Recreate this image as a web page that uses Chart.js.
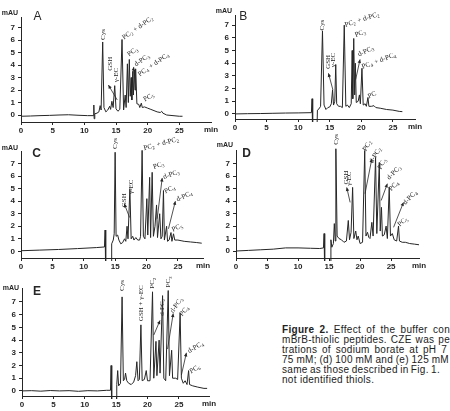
<!DOCTYPE html>
<html>
<head>
<meta charset="utf-8">
<script src="https://cdn.jsdelivr.net/npm/chart.js@4.4.1/dist/chart.umd.min.js"></script>
<style>
  html, body { margin: 0; padding: 0; background: #fff; }
  body { width: 450px; height: 411px; position: relative; overflow: hidden; }
  canvas { position: absolute; }
  #cap { position: absolute; left: 282px; top: 325px; font-family: "Liberation Sans", Arial, sans-serif; font-size: 10px; letter-spacing: 0.3px; color: #222; }
  #cap div { white-space: nowrap; height: 10px; line-height: 10px; }
</style>
</head>
<body>
<canvas id="chartA"></canvas>
<canvas id="chartB"></canvas>
<canvas id="chartC"></canvas>
<canvas id="chartD"></canvas>
<canvas id="chartE"></canvas>
<div id="cap">
  <div data-end="450"><span><b>Figure 2.</b> Effect of the buffer con</span>centration on</div>
  <div data-end="450"><span>mBrB-thiolic peptides. CZE was pe</span>rformed</div>
  <div data-end="447"><span>trations of sodium borate at pH 7</span></div>
  <div data-end="449"><span>75 mM; (d) 100 mM and (e) 125 mM</span></div>
  <div data-end="440"><span>same as those described in Fig. 1.</span></div>
  <div><span>not identified thiols.</span></div>
</div>
<script>
// ---- data: migration time (min) and absorbance (mAU) for each run ----
const timeA = [0, 1.5, 3, 4.5, 6, 7.5, 9, 10.5, 11.4, 11.5, 11.55, 11.65, 12.0, 12.3, 12.5, 12.65, 12.9, 13.1, 13.4, 13.7, 14.0, 14.15, 14.35, 14.55, 14.8, 15.0, 15.3, 15.6, 15.95, 16.2, 16.45, 16.6, 16.8, 16.95, 17.1, 17.25, 17.4, 17.5, 17.65, 17.75, 17.9, 18.0, 18.1, 18.3, 18.6, 18.75, 19.0, 19.15, 19.5, 20.0, 20.5, 21.0, 21.5, 22.0, 22.2, 22.4, 23.0, 24.0, 25.0, 25.5];
const mauA  = [-0.1, -0.08, -0.05, -0.03, 0.0, 0.02, -0.02, -0.05, -0.05, 0.8, -0.3, 0.1, 0.15, 0.25, 0.75, 0.4, 5.85, 0.6, 0.25, 0.4, 0.7, 0.45, 1.1, 0.6, 2.35, 0.5, 0.3, 0.45, 6.05, 0.4, 1.6, 0.6, 4.1, 1.0, 4.45, 1.5, 3.0, 1.2, 3.5, 1.6, 3.6, 2.0, 3.7, 0.9, 0.85, 0.6, 0.95, 0.6, 0.65, 0.55, 0.45, 0.35, 0.25, 0.2, 0.3, 0.15, 0.0, -0.05, -0.1, -0.1];

const timeB = [0, 2, 4, 6, 8, 10, 12.1, 12.2, 12.3, 12.95, 13.05, 13.3, 13.55, 13.85, 14.1, 14.4, 14.7, 15.0, 15.25, 15.45, 15.6, 15.8, 15.95, 16.1, 16.4, 16.7, 17.0, 17.3, 17.55, 17.8, 18.1, 18.4, 18.55, 18.65, 18.8, 18.95, 19.05, 19.2, 19.5, 19.7, 19.85, 20.1, 20.3, 20.6, 20.8, 21.05, 21.2, 21.6, 22.0, 22.3, 23.0, 24.0, 25.0, 26.0, 26.5];
const mauB  = [0.0, 0.02, 0.03, 0.05, 0.07, 0.08, 0.1, 1.2, -2.0, -2.0, 0.3, 0.4, 0.6, 6.55, 0.7, 0.35, 0.5, 0.55, 0.8, 1.9, 0.7, 1.0, 3.9, 0.8, 0.6, 0.6, 0.5, 7.0, 0.6, 0.7, 0.5, 0.8, 5.0, 1.2, 5.95, 1.5, 4.0, 0.9, 1.0, 1.5, 0.8, 3.6, 0.7, 0.8, 0.6, 1.3, 0.6, 0.6, 0.65, 0.5, 0.45, 0.35, 0.3, 0.2, 0.18];

const timeC = [0, 3, 6, 9, 12, 13.3, 13.4, 13.5, 14.35, 14.45, 14.7, 14.85, 15.0, 15.15, 15.4, 15.6, 15.9, 16.2, 16.5, 16.7, 16.9, 17.05, 17.35, 17.55, 17.8, 18.0, 18.3, 18.6, 18.9, 19.05, 19.3, 19.5, 19.75, 20.05, 20.2, 20.5, 20.65, 20.9, 21.1, 21.35, 21.6, 21.75, 22.1, 22.3, 22.5, 22.7, 22.85, 23.2, 23.35, 23.6, 23.9, 24.05, 24.3, 24.5, 25.0, 25.5, 26.0, 27.0, 28.0, 28.8];
const mauC  = [0.05, 0.1, 0.15, 0.22, 0.3, 0.35, 1.7, -2.0, -2.0, 0.6, 0.9, 1.4, 7.9, 1.2, 1.3, 0.9, 0.6, 0.7, 1.0, 0.8, 2.0, 1.0, 5.0, 1.0, 1.2, 0.9, 1.1, 0.9, 0.9, 1.2, 8.05, 1.2, 1.0, 4.2, 1.3, 5.9, 1.1, 6.3, 1.2, 2.0, 3.7, 1.1, 3.0, 1.0, 1.2, 4.85, 0.9, 2.0, 0.8, 0.9, 1.5, 0.8, 1.4, 0.9, 0.9, 0.85, 0.8, 0.75, 0.7, 0.65];

const timeD = [0, 2, 4, 6, 8, 10, 12, 13.5, 14.1, 14.2, 14.3, 15.2, 15.3, 15.45, 15.7, 15.85, 16.0, 16.1, 16.3, 16.6, 17.0, 17.4, 17.8, 18.1, 18.3, 18.55, 18.8, 19.0, 19.3, 19.5, 19.7, 20.0, 20.4, 20.75, 20.95, 21.2, 21.4, 21.6, 21.9, 22.1, 22.5, 22.7, 23.1, 23.25, 23.45, 23.6, 23.9, 24.2, 24.4, 24.7, 24.9, 25.2, 25.5, 25.9, 26.2, 26.35, 26.8, 27.3, 28.0, 28.8, 29.5];
const mauD  = [0.0, 0.05, 0.1, 0.15, 0.25, 0.25, 0.22, 0.2, 0.25, 1.4, -2.0, -2.0, 0.9, 0.3, 0.6, 2.2, 0.8, 8.2, 1.2, 1.0, 0.9, 0.7, 0.8, 2.45, 0.9, 1.5, 5.1, 1.0, 1.6, 0.9, 1.2, 0.6, 0.7, 8.06, 1.2, 1.5, 1.1, 1.0, 2.3, 1.2, 7.5, 1.4, 7.1, 1.6, 3.5, 1.2, 1.3, 2.0, 1.0, 5.1, 1.2, 1.4, 0.9, 0.8, 2.0, 0.8, 0.7, 0.7, 0.6, 0.55, 0.5];

const timeE = [0, 1.5, 3, 4.5, 6, 7.5, 9, 10.5, 12, 13.5, 14.1, 14.2, 14.3, 15.0, 15.1, 15.25, 15.4, 15.7, 15.95, 16.15, 16.35, 16.5, 16.7, 17.0, 17.4, 17.8, 18.1, 18.3, 18.5, 18.7, 18.95, 19.15, 19.5, 19.8, 20.0, 20.4, 20.8, 21.0, 21.35, 21.5, 21.85, 22.0, 22.4, 22.6, 22.9, 23.3, 23.5, 23.85, 24.0, 24.5, 24.8, 25.2, 25.4, 25.7, 26.0, 26.3, 26.55, 26.7, 27.2, 28.0, 29.0, 29.5];
const mauE  = [0.0, 0.02, -0.02, 0.03, 0.0, 0.02, -0.03, 0.02, 0.0, 0.05, 0.05, 2.0, -2.0, -2.0, 0.5, 1.6, 0.4, 0.6, 7.4, 0.8, 0.9, 1.4, 0.8, 0.6, 0.5, 0.7, 1.2, 2.3, 0.8, 0.9, 5.2, 0.8, 0.9, 1.6, 0.8, 0.8, 7.8, 1.0, 3.9, 1.2, 4.0, 1.4, 7.5, 1.0, 0.8, 7.9, 1.2, 3.2, 1.0, 1.0, 0.9, 6.1, 1.0, 0.6, 0.8, 0.5, 1.6, 0.5, 0.4, 0.3, 0.2, 0.2];

const timeTicks = [0, 5, 10, 15, 20, 25];
const mauTicks  = [0, 1, 2, 3, 4, 5, 6, 7];

// peak labels: [text, time, mAU, rotation deg, align]  ("_n" = subscript)
const peaksA = [
  ['Cys', 12.9, 6.45, -90, 'center'], ['GSH', 14.1, 4.1, -90, 'center'], ['\u03b3-EC', 14.95, 3.2, -90, 'center'],
  ['PC_2 + d-PC_2', 16.1, 6.15, -35, 'left'], ['PC_3', 16.9, 4.8, -35, 'left'], ['d-PC_3', 18.0, 4.0, -35, 'left'],
  ['PC_4 + d-PC_4', 18.6, 3.2, -35, 'left'], ['PC_5', 19.4, 1.2, -30, 'left']
];
const peaksB = [
  ['Cys', 13.85, 7.0, -90, 'center'], ['GSH', 14.8, 4.1, -90, 'center'], ['\u03b3-EC', 15.6, 4.25, -90, 'center'],
  ['PC_2 + d-PC_2', 17.4, 7.0, -18, 'left'], ['PC_3', 19.0, 6.2, -20, 'left'], ['d-PC_3', 19.5, 4.65, -25, 'left'],
  ['PC_4 + d-PC_4', 20.1, 3.7, -20, 'left'], ['PC', 21.1, 1.35, -25, 'left']
];
const peaksC = [
  ['Cys', 15.0, 8.6, -90, 'center'], ['GSH', 16.5, 4.07, -90, 'center'], ['\u03b3-EC', 17.5, 5.15, -90, 'center'],
  ['PC_2 + d-PC_2', 19.55, 8.2, -15, 'left'], ['PC_3', 21.1, 6.7, -20, 'left'], ['d-PC_3', 22.7, 5.9, -20, 'left'],
  ['PC_4', 22.9, 4.75, -25, 'left'], ['d-PC_4', 24.8, 4.1, -25, 'left'], ['PC_5', 24.1, 1.7, -25, 'left']
];
const peaksD = [
  ['Cys', 16.1, 8.95, -90, 'center'], ['GSH', 17.7, 5.9, -90, 'center'], ['\u03b3-EC', 18.3, 5.8, -90, 'center'],
  ['PC_2', 20.7, 8.05, -60, 'left'], ['d-PC_2', 21.8, 7.1, -60, 'left'], ['PC_3', 23.1, 6.6, -60, 'left'],
  ['d-PC_3', 24.5, 5.8, -45, 'left'], ['PC_4', 24.8, 4.9, -45, 'left'], ['d-PC_4', 27.1, 3.8, -45, 'left'],
  ['PC_5', 26.2, 2.05, -40, 'left']
];
const peaksE = [
  ['Cys', 16.0, 8.3, -90, 'center'], ['GSH + \u03b3-EC', 19.0, 6.9, -90, 'center'], ['PC_2', 20.8, 8.5, -90, 'center'],
  ['d-PC_2', 22.3, 6.6, -90, 'center'], ['PC_3', 23.3, 8.6, -90, 'center'], ['d-PC_3', 23.85, 6.2, -55, 'left'],
  ['PC_4', 25.3, 5.95, -50, 'left'], ['d-PC_4', 26.5, 3.1, -30, 'left'], ['PC_6', 26.8, 1.5, -30, 'left']
];

// arrows: [fromTime, fromMAU, toTime, toMAU]
const arrowsA = [[15.2, 1.2, 13.8, 2.4], [17.5, 2.2, 17.8, 3.85]];
const arrowsB = [[15.5, 1.9, 14.8, 3.2], [19.1, 2.7, 19.8, 4.3]];
const arrowsC = [[17.3, 2.7, 16.45, 3.8], [21.7, 2.6, 22.5, 5.85], [23.5, 1.8, 24.6, 4.0]];
const arrowsD = [[18.4, 3.9, 17.85, 5.1], [20.8, 4.6, 21.9, 7.4], [23.4, 4.05, 24.4, 5.4], [25.4, 1.9, 27.0, 3.9]];
const arrowsE = [[21.0, 4.4, 22.0, 5.55], [23.2, 3.3, 24.1, 6.1], [25.4, 1.25, 26.2, 3.0]];

// ---- layout of each panel (pixel placement in the figure) ----
const YW = 20, XH = 14, PL = 12, PT = 22, PR = 14, PB = 2;
const INK = '#262626';

const panels = [
  { id: 'chartA', t: timeA, v: mauA, peaks: peaksA, arrows: arrowsA, letter: 'A', bold: false, letterAt: [2.6, 7.85],
    x0: 21, ppm: 6.32, y0: 115, ppu: 12.53, tMax: 30, yMin: -0.56, yMax: 7.85, unitAt: 8.2, dashed: false },
  { id: 'chartB', t: timeB, v: mauB, peaks: peaksB, arrows: arrowsB, letter: 'B', bold: false, letterAt: [1.3, 7.7],
    x0: 235, ppm: 6.31, y0: 114, ppu: 12.71, tMax: 28.5, yMin: -0.4, yMax: 7.8, unitAt: 8.1, dashed: false },
  { id: 'chartC', t: timeC, v: mauC, peaks: peaksC, arrows: arrowsC, letter: 'C', bold: true, letterAt: [2.5, 7.8],
    x0: 21, ppm: 6.26, y0: 251, ppu: 12.53, tMax: 29, yMin: -0.53, yMax: 8.0, unitAt: 8.2, dashed: true },
  { id: 'chartD', t: timeD, v: mauD, peaks: peaksD, arrows: arrowsD, letter: 'D', bold: true, letterAt: [1.7, 7.8],
    x0: 236, ppm: 6.2, y0: 250.7, ppu: 12.49, tMax: 29.5, yMin: -0.56, yMax: 8.1, unitAt: 8.5, dashed: true },
  { id: 'chartE', t: timeE, v: mauE, peaks: peaksE, arrows: arrowsE, letter: 'E', bold: true, letterAt: [2.4, 7.8],
    x0: 21.7, ppm: 6.29, y0: 390.7, ppu: 12.71, tMax: 29.8, yMin: -0.4, yMax: 8.1, unitAt: 8.1, dashed: false }
];

// draws text with "_n" subscripts, starting at x=0 (left) or centred
function drawRich(ctx, str, align) {
  const parts = str.split(/_(\d)/);
  const big = '7px "Liberation Serif", "DejaVu Serif", serif';
  const small = '5px "Liberation Serif", "DejaVu Serif", serif';
  let w = 0;
  parts.forEach((s, i) => { ctx.font = i % 2 ? small : big; w += ctx.measureText(s).width + (i % 2 ? 0.6 : 0); });
  let x = align === 'center' ? -w / 2 : 0;
  parts.forEach((s, i) => {
    ctx.font = i % 2 ? small : big;
    ctx.fillText(s, x, i % 2 ? 2 : 0);
    x += ctx.measureText(s).width + (i % 2 ? 0.6 : 0);
  });
}

const inkPlugin = {
  id: 'ink',
  afterDraw(chart) {
    const p = chart.canvas.$panel;
    if (!p) return;
    const ctx = chart.ctx, xs = chart.scales.x, ys = chart.scales.y, a = chart.chartArea;
    ctx.save();
    ctx.fillStyle = INK;
    ctx.strokeStyle = INK;
    ctx.textBaseline = 'middle';
    // panel letter
    ctx.font = (p.bold ? 'bold ' : '') + '12px "Liberation Sans", Arial, sans-serif';
    ctx.textAlign = 'center';
    ctx.fillText(p.letter, xs.getPixelForValue(p.letterAt[0]), ys.getPixelForValue(p.letterAt[1]));
    // axis units
    ctx.font = 'bold 7px "Liberation Sans", Arial, sans-serif';
    ctx.textAlign = 'right';
    ctx.fillText('mAU', a.left - 3, ys.getPixelForValue(p.unitAt));
    ctx.font = 'bold 8px "Liberation Sans", Arial, sans-serif';
    ctx.textAlign = 'center';
    ctx.fillText('min', a.right, a.bottom + 8);
    // peak labels
    ctx.textAlign = 'left';
    p.peaks.forEach(([txt, t, v, rot, align]) => {
      ctx.save();
      ctx.translate(xs.getPixelForValue(t), ys.getPixelForValue(v));
      ctx.rotate(rot * Math.PI / 180);
      drawRich(ctx, txt, align);
      ctx.restore();
    });
    // arrows
    ctx.lineWidth = 0.8;
    p.arrows.forEach(([t1, v1, t2, v2]) => {
      const x1 = xs.getPixelForValue(t1), y1 = ys.getPixelForValue(v1);
      const x2 = xs.getPixelForValue(t2), y2 = ys.getPixelForValue(v2);
      const ang = Math.atan2(y2 - y1, x2 - x1);
      ctx.beginPath(); ctx.moveTo(x1, y1); ctx.lineTo(x2, y2); ctx.stroke();
      ctx.beginPath();
      ctx.moveTo(x2, y2);
      ctx.lineTo(x2 - 4 * Math.cos(ang - 0.45), y2 - 4 * Math.sin(ang - 0.45));
      ctx.lineTo(x2 - 4 * Math.cos(ang + 0.45), y2 - 4 * Math.sin(ang + 0.45));
      ctx.closePath(); ctx.fill();
    });
    ctx.restore();
  }
};

const tickFont = { family: '"Liberation Sans", Arial, sans-serif', size: 8, weight: 'bold' };

panels.forEach(p => {
  const left = p.x0, right = p.x0 + p.tMax * p.ppm;
  const top = p.y0 - p.yMax * p.ppu, bottom = p.y0 - p.yMin * p.ppu;
  const cv = document.getElementById(p.id);
  cv.$panel = p;
  cv.width = Math.round(PL + YW + (right - left) + PR);
  cv.height = Math.round(PT + (bottom - top) + XH + PB);
  cv.style.left = (left - YW - PL) + 'px';
  cv.style.top = (top - PT) + 'px';

  new Chart(cv, {
    type: 'line',
    data: {
      datasets: [{
        data: p.t.map((t, i) => ({ x: t, y: p.v[i] })),
        borderColor: INK,
        borderWidth: 1,
        pointRadius: 0,
        tension: 0,
        clip: { left: 0, top: 20, right: 0, bottom: 3 }
      }]
    },
    options: {
      responsive: false,
      animation: false,
      devicePixelRatio: 1,
      layout: { padding: { left: PL, top: PT, right: PR, bottom: PB } },
      plugins: { legend: { display: false }, tooltip: { enabled: false } },
      scales: {
        x: {
          type: 'linear', min: 0, max: p.tMax,
          afterBuildTicks: s => { s.ticks = timeTicks.map(v => ({ value: v })); },
          afterFit: s => { s.height = XH; s.paddingLeft = 0; s.paddingRight = 0; },
          grid: { drawOnChartArea: false, tickLength: 3, color: INK },
          border: { color: INK, width: 1, dash: p.dashed ? [2, 1.5] : [] },
          ticks: { font: tickFont, color: INK, padding: 1, maxRotation: 0, autoSkip: false }
        },
        y: {
          min: p.yMin, max: p.yMax,
          afterBuildTicks: s => { s.ticks = mauTicks.map(v => ({ value: v })); },
          afterFit: s => { s.width = YW; s.paddingTop = 0; s.paddingBottom = 0; },
          grid: { drawOnChartArea: false, tickLength: 3, color: INK },
          border: { color: INK, width: 1 },
          ticks: { font: tickFont, color: INK, padding: 3, autoSkip: false }
        }
      }
    },
    plugins: [inkPlugin]
  });
});

// stretch the caption lines so that their visible part ends where it does in the figure
document.querySelectorAll('#cap div[data-end]').forEach(line => {
  const span = line.querySelector('span');
  const spaces = (span.textContent.match(/ /g) || []).length;
  const want = +line.dataset.end - 282;
  const have = span.getBoundingClientRect().width;
  line.style.wordSpacing = ((want - have) / spaces) + 'px';
});
</script>
</body>
</html>
